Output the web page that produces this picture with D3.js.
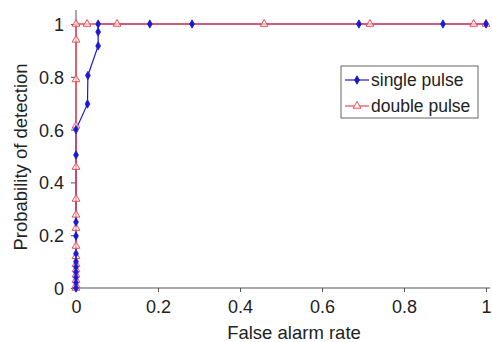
<!DOCTYPE html>
<html lang="en">
<head>
<meta charset="UTF-8">
<title>ROC</title>
<script src="https://cdn.jsdelivr.net/npm/d3@7"></script>
<style>
  body { margin: 0; background: #fff; }
  svg text { font-family: "Liberation Sans", Arial, sans-serif; fill: #222; }
</style>
</head>
<body>
<svg width="492" height="342"></svg>
<script>
// single pulse: false alarm rate / probability of detection
var singleX = [0, 0, 0, 0, 0, 0, 0, 0, 0, 0, 0, 0.028, 0.029, 0.054, 0.054, 0.054, 0.18, 0.283, 0.69, 0.895, 1];
var singleY = [0, 0.02, 0.04, 0.06, 0.08, 0.1, 0.13, 0.197, 0.25, 0.504, 0.6, 0.697, 0.805, 0.917, 0.97, 1, 1, 1, 1, 1, 1];

// double pulse
var doubleX = [0, 0, 0, 0, 0, 0, 0, 0, 0, 0, 0, 0, 0, 0, 0, 0, 0.027, 0.1, 0.459, 0.717, 0.97, 1];
var doubleY = [0, 0.01, 0.03, 0.05, 0.07, 0.09, 0.12, 0.159, 0.227, 0.277, 0.337, 0.458, 0.614, 0.79, 0.94, 1, 1, 1, 1, 1, 1, 1];

var xTicks = [0, 0.2, 0.4, 0.6, 0.8, 1];
var yTicks = [0, 0.2, 0.4, 0.6, 0.8, 1];
var seriesNames = ["single pulse", "double pulse"];

var svg = d3.select("svg");

var x = d3.scaleLinear().domain([0, 1]).range([76, 486]);
var y = d3.scaleLinear().domain([0, 1]).range([288, 24]);

// axes
var xAxis = svg.append("g")
    .attr("transform", "translate(0,288)")
    .call(d3.axisBottom(x).tickValues(xTicks).tickFormat(d3.format("")).tickSize(4).tickSizeOuter(0));
var yAxis = svg.append("g")
    .attr("transform", "translate(76,0)")
    .call(d3.axisLeft(y).tickValues(yTicks).tickFormat(d3.format("")).tickSize(5).tickSizeOuter(0));

[xAxis, yAxis].forEach(function(a) {
    a.select(".domain").remove();
    a.selectAll("line").attr("stroke", "#555");
    a.selectAll("text").style("font-size", "18px").attr("fill", "#222");
});
xAxis.selectAll("text").attr("y", 25).attr("dy", null);
yAxis.selectAll("text").attr("x", -12).attr("dy", "0.36em");

svg.append("line").attr("x1", 76).attr("x2", 76).attr("y1", 10).attr("y2", 288).attr("stroke", "#555");
svg.append("line").attr("x1", 76).attr("x2", 490).attr("y1", 288).attr("y2", 288).attr("stroke", "#555");

// axis titles
svg.append("text")
    .attr("x", 294).attr("y", 339)
    .attr("text-anchor", "middle")
    .style("font-size", "18.5px")
    .text("False alarm rate");
svg.append("text")
    .attr("transform", "translate(27,157) rotate(-90)")
    .attr("text-anchor", "middle")
    .style("font-size", "18.5px")
    .text("Probability of detection");

var line = d3.line().x(function(d) { return x(d[0]); }).y(function(d) { return y(d[1]); });
var singleData = d3.zip(singleX, singleY);
var doubleData = d3.zip(doubleX, doubleY);

var blue = "#1a1ad6", red = "#ec4a52";
var tri = d3.symbol().type(d3.symbolTriangle).size(26);
var dia = d3.symbol().type(d3.symbolDiamond).size(20);

// single pulse
svg.append("path").datum(singleData).attr("d", line)
    .attr("fill", "none").attr("stroke", blue).attr("stroke-width", 1.2);
// double pulse
svg.append("path").datum(doubleData).attr("d", line)
    .attr("fill", "none").attr("stroke", red).attr("stroke-width", 1.4);

svg.selectAll(".mk-d").data(doubleData).join("path")
    .attr("class", "mk-d")
    .attr("d", tri)
    .attr("transform", function(d) { return "translate(" + x(d[0]) + "," + y(d[1]) + ")"; })
    .attr("fill", "#fff").attr("fill-opacity", 0.6).attr("stroke", red).attr("stroke-width", 1);

svg.selectAll(".mk-s").data(singleData).join("path")
    .attr("class", "mk-s")
    .attr("d", dia)
    .attr("transform", function(d) { return "translate(" + x(d[0]) + "," + y(d[1]) + ")"; })
    .attr("fill", blue).attr("stroke", blue).attr("stroke-width", 0.8);

// legend
var lg = svg.append("g").attr("transform", "translate(341,66)");
lg.append("rect").attr("width", 137).attr("height", 52)
    .attr("fill", "#fff").attr("stroke", "#666").attr("stroke-width", 1);
seriesNames.forEach(function(name, i) {
    var cy = 14 + i * 26;
    var col = i === 0 ? blue : red;
    lg.append("line").attr("x1", 4).attr("x2", 28).attr("y1", cy).attr("y2", cy)
        .attr("stroke", col).attr("stroke-width", 1.2);
    lg.append("path").attr("d", i === 0 ? dia : tri)
        .attr("transform", "translate(16," + cy + ")")
        .attr("fill", i === 0 ? blue : "#fff").attr("stroke", col);
    lg.append("text").attr("x", 30).attr("y", cy).attr("dy", "0.36em")
        .style("font-size", "17.5px").text(name);
});
</script>
</body>
</html>
